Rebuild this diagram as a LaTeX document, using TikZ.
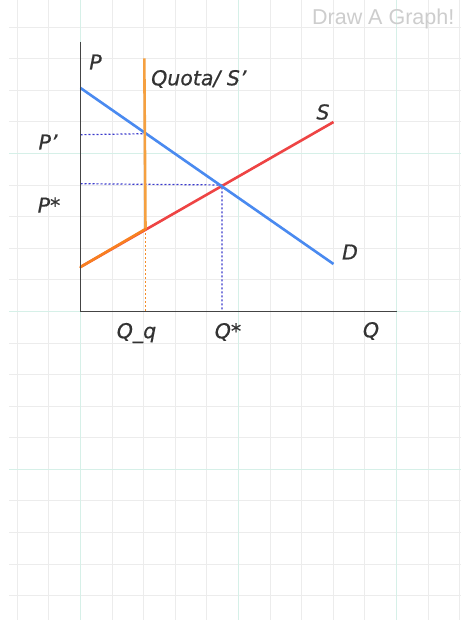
\documentclass[tikz,border=0pt]{standalone}
\usepackage{fontspec}
\setmainfont{DejaVu Sans}
\newfontface\hand{DejaVu Sans Oblique}[FakeBold=0.6]
\newfontfamily\uifont{Liberation Sans}
\begin{document}
\begin{tikzpicture}[x=1pt,y=-1pt,
  minorgrid/.style={draw={rgb,255:red,236;green,236;blue,236},line width=1pt},
  majorgrid/.style={draw={rgb,255:red,214;green,240;blue,232},line width=1.2pt},
  axisline/.style={draw={rgb,255:red,68;green,68;blue,68},line width=1.5pt},
  demand/.style={draw={rgb,255:red,74;green,138;blue,240},line width=2.6pt},
  supply/.style={draw={rgb,255:red,238;green,68;blue,68},line width=2.6pt},
  quota/.style={draw={rgb,255:red,245;green,160;blue,64},line width=2.6pt},
  quotalow/.style={draw={rgb,255:red,248;green,128;blue,32},line width=2.6pt,line cap=round},
  guide/.style={draw={rgb,255:red,58;green,58;blue,204},line width=1.2pt,dash pattern=on 2pt off 2pt},
  oguide/.style={draw={rgb,255:red,245;green,140;blue,40},line width=1.2pt,dash pattern=on 2pt off 2pt},
  lbl/.style={inner sep=0pt,text={rgb,255:red,51;green,51;blue,51},font=\hand\fontsize{20.5}{22}\selectfont}
]
\useasboundingbox (0,0) rectangle (461,620);
\fill[white] (0,0) rectangle (461,620);
% grid
\foreach \k in {0,...,18} {
  \pgfmathsetmacro{\yy}{27.2+31.58*\k}
  \draw[minorgrid] (9,\yy) -- (461,\yy);
}
\foreach \k in {0,...,14} {
  \pgfmathsetmacro{\xx}{17.3+31.6*\k}
  \draw[minorgrid] (\xx,0) -- (\xx,620);
}
\foreach \k in {4,9,14} {
  \pgfmathsetmacro{\yy}{27.2+31.58*\k}
  \draw[majorgrid] (9,\yy) -- (461,\yy);
}
\foreach \k in {2,7,12} {
  \pgfmathsetmacro{\xx}{17.3+31.6*\k}
  \draw[majorgrid] (\xx,0) -- (\xx,620);
}
% title
\node[anchor=base east,inner sep=0pt,text={rgb,255:red,205;green,205;blue,205},font=\uifont\fontsize{21.5}{24}\selectfont] (title) at (454.5,25) {Draw A Graph!};
% key points
\coordinate (O) at (80.5,311.4);
\coordinate (Ytop) at (80.5,42);
\coordinate (Xend) at (397,311.4);
\coordinate (D1) at (80.5,88);
\coordinate (D2) at (333.5,264);
\coordinate (S1) at (80.5,267);
\coordinate (S2) at (333.5,122);
\coordinate (E) at (222,185);
\coordinate (Qtop) at (144.3,58.3);
\coordinate (Qbot) at (145.5,229);
\coordinate (Pp) at (145,133.7);
\coordinate (PpAx) at (80.5,134.7);
\coordinate (PsAx) at (80.5,183.7);
\coordinate (QsAx) at (222,311.4);
\coordinate (QqAx) at (145.5,311.4);
% guides
\draw[guide] (PpAx) -- (Pp);
\draw[guide] (PsAx) -- (E) -- (QsAx);
\draw[oguide] (Qbot) -- (QqAx);
% curves
\draw[supply] (S1) -- (S2);
\draw[demand] (D1) -- (D2);
\draw[quota] (Qtop) -- (Qbot);
\draw[quotalow] (S1) -- (Qbot);
% axes
\draw[axisline] (Ytop) -- (O) -- (Xend);
% labels
\node[lbl] (lP) at (95.5,62) {P};
\node[lbl,anchor=west] (lQuota) at (151,79) {Quota/ S’};
\node[lbl] (lS) at (323,112) {S};
\node[lbl] (lD) at (350,252) {D};
\node[lbl] (lPp) at (48,142) {P’};
\node[lbl] (lPs) at (49,205) {P*};
\node[lbl] (lQq) at (136.5,333) {Q\_q};
\node[lbl] (lQs) at (228,332) {Q*};
\node[lbl] (lQ) at (371,331) {Q};
\end{tikzpicture}
\end{document}
